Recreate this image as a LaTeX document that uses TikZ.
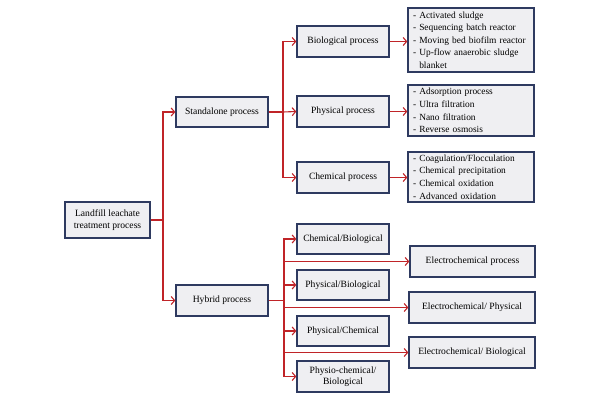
\documentclass[tikz,border=0pt]{standalone}
\usepackage{fontspec}
\setmainfont{Liberation Serif}
\usetikzlibrary{arrows.meta}
\definecolor{bordc}{RGB}{46,58,96}
\definecolor{fillc}{RGB}{239,239,242}
\definecolor{arrc}{RGB}{192,36,40}
\tikzset{
  box/.style={draw=bordc, fill=fillc, line width=1.3pt, inner sep=0pt, align=center, font=\fontsize{9.6}{11.5}\selectfont},
  listbox/.style={draw=bordc, fill=fillc, line width=1.3pt, inner xsep=5pt, inner ysep=0pt, align=left, font=\fontsize{9.4}{12.6}\selectfont},
  conn/.style={draw=arrc, line width=1.1pt},
  arr/.style={conn, -{Straight Barb[length=3.5pt,width=8pt]}}
}
\begin{document}
\begin{tikzpicture}[x=1pt,y=-1pt]
\useasboundingbox (0,0) rectangle (600,400);
\node[box, minimum width=85pt, minimum height=36pt] (land) at (107.5,220) {Landfill leachate\\treatment process};
\node[box, minimum width=92pt, minimum height=30pt] (stand) at (222,112) {Standalone process};
\node[box, minimum width=92pt, minimum height=31pt] (hyb) at (222,300.5) {Hybrid process};
\node[box, minimum width=92pt, minimum height=31pt] (bio) at (343,41.5) {Biological process};
\node[box, minimum width=92pt, minimum height=31pt] (phys) at (343,111.5) {Physical process};
\node[box, minimum width=92pt, minimum height=31pt] (chem) at (343,177.5) {Chemical process};
\node[listbox, text width=116pt, minimum height=64pt] (biol) at (471,40) {- Activated sludge\\- Sequencing batch reactor\\- Moving bed biofilm reactor\\- Up-flow anaerobic sludge\\\phantom{- }blanket};
\node[listbox, text width=116pt, minimum height=51pt] (physl) at (471,110.5) {- Adsorption process\\- Ultra filtration\\- Nano filtration\\- Reverse osmosis};
\node[listbox, text width=116pt, minimum height=50pt] (chcml) at (471,177) {- Coagulation/Flocculation\\- Chemical precipitation\\- Chemical oxidation\\- Advanced oxidation};
\node[box, minimum width=92pt, minimum height=30pt] (cb) at (343,239) {Chemical/Biological};
\node[box, minimum width=92pt, minimum height=30pt] (pb) at (343,285) {Physical/Biological};
\node[box, minimum width=92pt, minimum height=30pt] (pc) at (343,331) {Physical/Chemical};
\node[box, minimum width=92pt, minimum height=31pt] (pcb) at (343,376.5) {Physio-chemical/\\Biological};
\node[box, minimum width=125pt, minimum height=31pt] (e1) at (472.5,261.5) {Electrochemical process};
\node[box, minimum width=126pt, minimum height=31pt] (e2) at (472,307.5) {Electrochemical/ Physical};
\node[box, minimum width=126pt, minimum height=31pt] (e3) at (472,352.5) {Electrochemical/ Biological};
% junctions
\coordinate (j1) at (163,220);
\coordinate (j2) at (283,112);
\coordinate (j3) at (284,300.5);
% landfill
\draw[conn] (land.east) -- (j1);
\draw[arr] (j1) |- (stand.west);
\draw[arr] (j1) |- (hyb.west);
% standalone
\draw[conn] (stand.east) -- (j2);
\draw[arr] (j2) |- (bio.west);
\draw[arr] (j2) -- (phys.west);
\draw[arr] (j2) |- (chem.west);
% lists
\draw[arr] (bio.east) -- (bio.east -| biol.west);
\draw[arr] (phys.east) -- (phys.east -| physl.west);
\draw[arr] (chem.east) -- (chem.east -| chcml.west);
% hybrid
\draw[conn] (hyb.east) -- (j3);
\draw[arr] (j3) |- (cb.west);
\draw[arr] (j3) |- (pb.west);
\draw[arr] (j3) |- (pc.west);
\draw[arr] (j3) |- (pcb.west);
\draw[arr] (j3 |- e1.west) -- (e1.west);
\draw[arr] (j3 |- e2.west) -- (e2.west);
\draw[arr] (j3 |- e3.west) -- (e3.west);
\end{tikzpicture}
\end{document}
